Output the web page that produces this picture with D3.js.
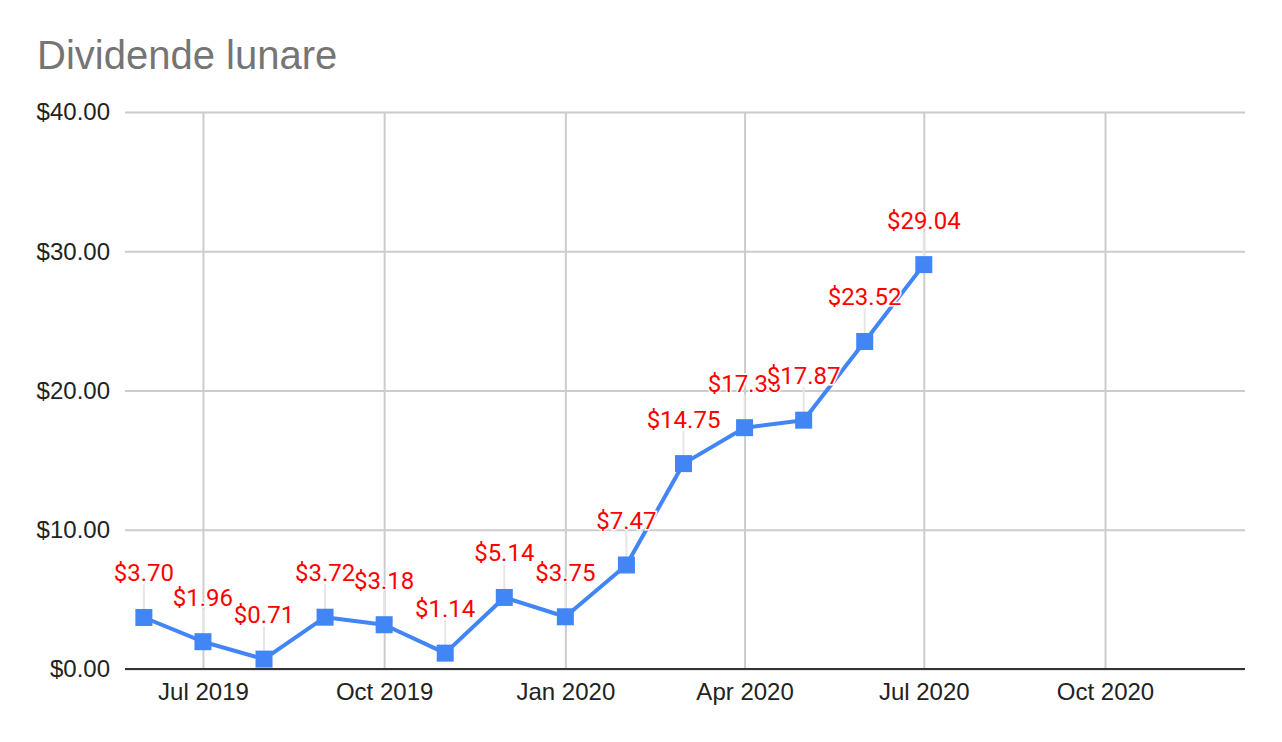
<!DOCTYPE html>
<html>
<head>
<meta charset="utf-8">
<script src="https://cdn.jsdelivr.net/npm/d3@7"></script>
<style>
  html, body { margin: 0; padding: 0; background: #fff; }
  svg { display: block; }
</style>
</head>
<body>
<svg id="chart" width="1282" height="742"></svg>
<script>
// ---- data ----
const months = ["2019-06-01","2019-07-01","2019-08-01","2019-09-01","2019-10-01","2019-11-01","2019-12-01",
                "2020-01-01","2020-02-01","2020-03-01","2020-04-01","2020-05-01","2020-06-01","2020-07-01"];
const values = [3.70, 1.96, 0.71, 3.72, 3.18, 1.14, 5.14, 3.75, 7.47, 14.75, 17.33, 17.87, 23.52, 29.04];
const yTicks = [0, 10, 20, 30, 40];
const xTicks = ["2019-07-01","2019-10-01","2020-01-01","2020-04-01","2020-07-01","2020-10-01"];
const title = "Dividende lunare";

(function () {
// ---- layout ----
const pLeft = 125, pRight = 1245, pTop = 112, pBottom = 669;
const svg = d3.select("#chart");
const parse = d3.utcParse("%Y-%m-%d");
const data = months.map((m, i) => ({ date: parse(m), value: values[i] }));

const x = d3.scaleUtc()
  .domain([new Date(Date.UTC(2019, 4, 22, 10)), new Date(Date.UTC(2020, 11, 11, 2))])
  .range([pLeft, pRight]);
const y = d3.scaleLinear().domain([0, 40]).range([pBottom, pTop]);

const axisFont = "'Liberation Sans', Arial, sans-serif";

// title
svg.append("text")
  .attr("x", 37).attr("y", 69)
  .attr("font-family", axisFont)
  .attr("font-size", 40)
  .attr("fill", "#757575")
  .text(title);

// horizontal grid
svg.append("g")
  .attr("transform", `translate(${pLeft},0)`)
  .call(d3.axisLeft(y).tickValues(yTicks).tickSize(-(pRight - pLeft)).tickFormat(""))
  .call(g => g.select(".domain").remove())
  .call(g => g.selectAll(".tick line").attr("stroke", "#cccccc").attr("stroke-width", 2));

// vertical grid
svg.append("g")
  .attr("transform", `translate(0,${pBottom})`)
  .call(d3.axisBottom(x).tickValues(xTicks.map(parse)).tickSize(-(pBottom - pTop)).tickFormat(""))
  .call(g => g.select(".domain").remove())
  .call(g => g.selectAll(".tick line").attr("stroke", "#cccccc").attr("stroke-width", 2));

// y labels
svg.append("g")
  .attr("transform", `translate(${pLeft},0)`)
  .call(d3.axisLeft(y).tickValues(yTicks).tickSize(0).tickPadding(15).tickFormat(d => "$" + d3.format(".2f")(d)))
  .call(g => g.select(".domain").remove())
  .call(g => g.selectAll(".tick text")
    .attr("font-family", axisFont).attr("font-size", 24).attr("fill", "#222").attr("dy", "0.33em"));

// x labels
const fmtX = d3.utcFormat("%b %Y");
svg.append("g")
  .attr("transform", `translate(0,${pBottom})`)
  .call(d3.axisBottom(x).tickValues(xTicks.map(parse)).tickSize(0).tickPadding(14).tickFormat(fmtX))
  .call(g => g.select(".domain").remove())
  .call(g => g.selectAll(".tick text")
    .attr("font-family", axisFont).attr("font-size", 24).attr("fill", "#222").attr("dy", "0.71em"));

// baseline
svg.append("line")
  .attr("x1", pLeft).attr("x2", pRight)
  .attr("y1", y(0)).attr("y2", y(0))
  .attr("stroke", "#333").attr("stroke-width", 2);

// leader lines
svg.append("g").selectAll("line").data(data).join("line")
  .attr("x1", d => x(d.date)).attr("x2", d => x(d.date))
  .attr("y1", d => y(d.value) - 33).attr("y2", d => y(d.value) - 8)
  .attr("stroke", "#e6e6e6").attr("stroke-width", 2);

// line
svg.append("path")
  .datum(data)
  .attr("fill", "none")
  .attr("stroke", "#4285F4")
  .attr("stroke-width", 4)
  .attr("stroke-linejoin", "round")
  .attr("d", d3.line().x(d => x(d.date)).y(d => y(d.value)));

// markers
const ms = 17;
svg.append("g").selectAll("rect").data(data).join("rect")
  .attr("x", d => x(d.date) - ms / 2)
  .attr("y", d => y(d.value) - ms / 2)
  .attr("width", ms).attr("height", ms)
  .attr("fill", "#4285F4");

// data labels (drawn in order; later labels' halos cover earlier ones, as in the reference)
svg.append("g").selectAll("text").data(data).join("text")
  .attr("x", d => x(d.date))
  .attr("y", d => y(d.value) - 36)
  .attr("text-anchor", "middle")
  .attr("font-family", "Roboto, sans-serif")
  .attr("font-size", 24)
  .attr("fill", "#ff0000")
  .attr("stroke", "#fff")
  .attr("stroke-width", 3)
  .attr("paint-order", "stroke")
  .text(d => "$" + d3.format(".2f")(d.value));
})();
</script>
</body>
</html>
